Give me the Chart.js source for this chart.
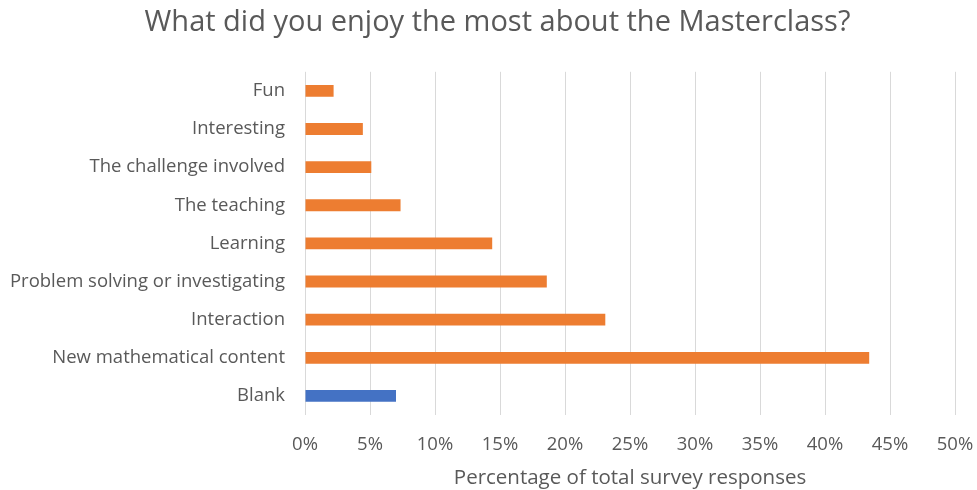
<!DOCTYPE html>
<html>
<head>
<meta charset="utf-8">
<script src="https://cdn.jsdelivr.net/npm/chart.js@4.4.1/dist/chart.umd.min.js"></script>
<style>
  html, body { margin: 0; padding: 0; background: #fff; }
  #wrap { width: 977px; height: 490px; }
</style>
</head>
<body>
<div id="wrap"><canvas id="myChart" width="977" height="490"></canvas></div>
<script>
// answers, listed top to bottom
const categories = [
  'Fun',
  'Interesting',
  'The challenge involved',
  'The teaching',
  'Learning',
  'Problem solving or investigating',
  'Interaction',
  'New mathematical content',
  'Blank'
];
// share of total survey responses, in %
const shares = [2.2, 4.45, 5.1, 7.35, 14.4, 18.6, 23.1, 43.4, 7.0];
const xTicks = [0, 5, 10, 15, 20, 25, 30, 35, 40, 45, 50];

const ORANGE = '#ED7D31';
const BLUE = '#4472C4';
const TEXT = '#595959';
const FONT = "'Open Sans', sans-serif";

const barColors = categories.map(c => c === 'Blank' ? BLUE : ORANGE);

// nudge the title box a little to the right of the canvas centre
const titleShift = {
  id: 'titleShift',
  afterLayout(chart) {
    if (chart.titleBlock) chart.titleBlock.left = 18;
  }
};

document.addEventListener('DOMContentLoaded', () => {
  const ctx = document.getElementById('myChart').getContext('2d');
  new Chart(ctx, {
    type: 'bar',
    data: {
      labels: categories,
      datasets: [{
        data: shares,
        backgroundColor: barColors,
        borderWidth: 0,
        categoryPercentage: 1,
        barPercentage: 0.31
      }]
    },
    options: {
      indexAxis: 'y',
      responsive: false,
      animation: false,
      layout: { padding: 0 },
      plugins: {
        legend: { display: false },
        tooltip: { enabled: false },
        title: {
          display: true,
          text: 'What did you enjoy the most about the Masterclass?',
          color: TEXT,
          font: { family: FONT, size: 29, weight: 'normal' },
          padding: { top: 5, bottom: 32 }
        }
      },
      scales: {
        x: {
          min: 0,
          max: 50,
          afterBuildTicks: s => { s.ticks = xTicks.map(v => ({ value: v })); },
          afterFit: s => {
            s.height = 75;
            s.paddingLeft = 0;
            s.paddingRight = 22;
          },
          grid: { color: '#D9D9D9', lineWidth: 1, drawTicks: false },
          border: { display: false },
          ticks: {
            color: TEXT,
            padding: 19,
            maxRotation: 0,
            font: { family: FONT, size: 18.5 },
            callback: v => v + '%'
          },
          title: {
            display: true,
            text: 'Percentage of total survey responses',
            color: TEXT,
            font: { family: FONT, size: 20.5 },
            padding: { top: 0, bottom: 0 }
          }
        },
        y: {
          afterFit: s => { s.width = 305; },
          grid: { display: false, drawTicks: false },
          border: { display: false },
          ticks: {
            color: TEXT,
            padding: 20,
            font: { family: FONT, size: 18.5 }
          }
        }
      }
    },
    plugins: [titleShift]
  });
});
</script>
</body>
</html>
